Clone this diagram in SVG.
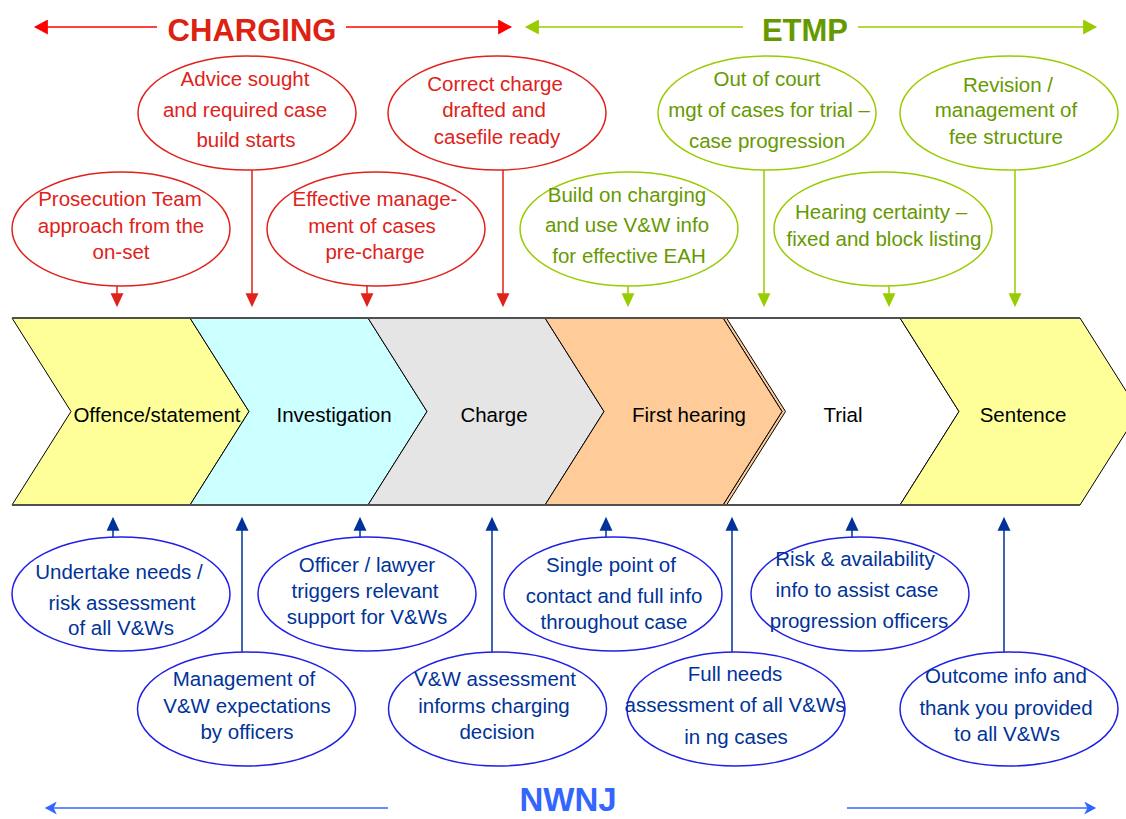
<svg xmlns="http://www.w3.org/2000/svg" width="1126" height="819" viewBox="0 0 1126 819">
<style>
text{font-family:"Liberation Sans",Arial,sans-serif;text-anchor:middle}
.hd{font-size:31px;font-weight:bold}
.lbl{font-size:20.5px;fill:#000}
.et{font-size:20.5px}
.r{fill:#E0221A}.g{fill:#669900}.b{fill:#003399}
.er{fill:#fff;stroke:#E0221A;stroke-width:1.5}
.eg{fill:#fff;stroke:#99CC00;stroke-width:1.5}
.eb{fill:#fff;stroke:#1F1FE6;stroke-width:1.5}
.chev{stroke:#000;stroke-width:1}
.cr{stroke:#E0221A;stroke-width:1.5;fill:none;marker-end:url(#mr)}
.cg{stroke:#99CC00;stroke-width:1.5;fill:none;marker-end:url(#mg)}
.cb{stroke:#003399;stroke-width:1.5;fill:none;marker-end:url(#mb)}
.hr{stroke:#FF0000;stroke-width:1.5;fill:none}
.hg{stroke:#99CC00;stroke-width:1.5;fill:none}
.hb{stroke:#3366FF;stroke-width:1.5;fill:none}
</style>
<defs>
<marker id="mr" markerUnits="userSpaceOnUse" markerWidth="14" markerHeight="14" viewBox="0 0 13 12" refX="11" refY="6" orient="auto"><path d="M0,0 L13,6 L0,12 z" fill="#E0221A"/></marker>
<marker id="mg" markerUnits="userSpaceOnUse" markerWidth="14" markerHeight="14" viewBox="0 0 13 12" refX="11" refY="6" orient="auto"><path d="M0,0 L13,6 L0,12 z" fill="#99CC00"/></marker>
<marker id="mb" markerUnits="userSpaceOnUse" markerWidth="14" markerHeight="14" viewBox="0 0 13 12" refX="11" refY="6" orient="auto"><path d="M0,0 L13,6 L0,12 z" fill="#003399"/></marker>
<marker id="mhr" markerUnits="userSpaceOnUse" markerWidth="15" markerHeight="15" viewBox="0 0 13 14" refX="12" refY="7" orient="auto"><path d="M0,0 L13,7 L0,14 z" fill="#FF0000"/></marker>
<marker id="mhg" markerUnits="userSpaceOnUse" markerWidth="15" markerHeight="15" viewBox="0 0 13 14" refX="12" refY="7" orient="auto"><path d="M0,0 L13,7 L0,14 z" fill="#99CC00"/></marker>
<marker id="mhb" markerUnits="userSpaceOnUse" markerWidth="13" markerHeight="13" viewBox="0 0 11 12" refX="10" refY="6" orient="auto"><path d="M0,0 L11,6 L0,12 L3,6 z" fill="#3366FF"/></marker>
</defs>
<rect width="1126" height="819" fill="#fff"/>

<g id="headers">
<line class="hr" x1="157" y1="27" x2="35" y2="27" marker-end="url(#mhr)"/>
<line class="hr" x1="346" y1="27" x2="511" y2="27" marker-end="url(#mhr)"/>
<text class="hd" x="252" y="41" fill="#DD2211">CHARGING</text>
<line class="hg" x1="743" y1="27" x2="526" y2="27" marker-end="url(#mhg)"/>
<line class="hg" x1="858" y1="27" x2="1096" y2="27" marker-end="url(#mhg)"/>
<text class="hd" x="805" y="41" fill="#669900">ETMP</text>
<line class="hb" x1="388" y1="808" x2="46" y2="808" marker-end="url(#mhb)"/>
<line class="hb" x1="847" y1="808" x2="1095" y2="808" marker-end="url(#mhb)"/>
<text class="hd" x="568" y="811" fill="#3366FF" style="font-size:33px">NWNJ</text>
</g>

<g id="process">
<g id="offence"><polygon class="chev" fill="#FFFF99" points="12,318 190,318 249,411.5 190,505 12,505 71,411.5"/><text class="lbl" x="157" y="422">Offence/statement</text></g>
<g id="investigation"><polygon class="chev" fill="#CCFFFF" points="190,318 368,318 427,411.5 368,505 190,505 249,411.5"/><text class="lbl" x="334" y="422">Investigation</text></g>
<g id="charge"><polygon class="chev" fill="#E5E5E5" points="368,318 545,318 604,411.5 545,505 368,505 427,411.5"/><text class="lbl" x="494" y="422">Charge</text></g>
<g id="trial"><polygon class="chev" fill="#FFFFFF" points="723,318 900,318 959,411.5 900,505 723,505 782,411.5"/><text class="lbl" x="843" y="422">Trial</text></g>
<g id="firsthearing"><polygon class="chev" fill="#FFCC99" points="723,318 726.5,318 785.5,411.5 726.5,505 723,505 782,411.5"/><polygon class="chev" fill="#FFCC99" points="545,318 723,318 782,411.5 723,505 545,505 604,411.5"/><text class="lbl" x="689" y="422">First hearing</text></g>
<g id="sentence"><polygon class="chev" fill="#FFFF99" points="900,318 1080,318 1139,411.5 1080,505 900,505 959,411.5"/><text class="lbl" x="1023" y="422">Sentence</text></g>
<line x1="12" y1="318" x2="1080" y2="318" stroke="#505050" stroke-width="2.2"/>
<line x1="12" y1="505" x2="1080" y2="505" stroke="#505050" stroke-width="2.2"/>
</g>

<g id="connectors">
<line class="cr" x1="117" y1="286" x2="117" y2="305"/>
<line class="cr" x1="252" y1="170" x2="252" y2="305"/>
<line class="cr" x1="367" y1="286" x2="367" y2="305"/>
<line class="cr" x1="503" y1="170" x2="503" y2="305"/>
<line class="cg" x1="628" y1="286" x2="628" y2="305"/>
<line class="cg" x1="764" y1="170" x2="764" y2="305"/>
<line class="cg" x1="889" y1="286" x2="889" y2="305"/>
<line class="cg" x1="1015" y1="170" x2="1015" y2="305"/>
<line class="cb" x1="113" y1="537" x2="113" y2="519"/>
<line class="cb" x1="242" y1="652" x2="242" y2="519"/>
<line class="cb" x1="360" y1="537" x2="360" y2="519"/>
<line class="cb" x1="492" y1="652" x2="492" y2="519"/>
<line class="cb" x1="606" y1="537" x2="606" y2="519"/>
<line class="cb" x1="732" y1="652" x2="732" y2="519"/>
<line class="cb" x1="852" y1="537" x2="852" y2="519"/>
<line class="cb" x1="1004" y1="652" x2="1004" y2="519"/>
</g>

<g id="n-prosecution"><ellipse class="er" cx="121" cy="229" rx="109" ry="57"/><text class="et r" x="120"><tspan x="120" y="206">Prosecution Team</tspan><tspan x="121" y="233">approach from the</tspan><tspan x="121" y="259">on-set</tspan></text></g>
<g id="n-advice"><ellipse class="er" cx="247" cy="113" rx="109" ry="57"/><text class="et r"><tspan x="245" y="86">Advice sought</tspan><tspan x="245" y="117">and required case</tspan><tspan x="246" y="147">build starts</tspan></text></g>
<g id="n-effective"><ellipse class="er" cx="376" cy="229" rx="109" ry="57"/><text class="et r"><tspan x="375" y="206">Effective manage-</tspan><tspan x="372" y="233">ment of cases</tspan><tspan x="375" y="259">pre-charge</tspan></text></g>
<g id="n-correct"><ellipse class="er" cx="497" cy="113" rx="109" ry="57"/><text class="et r"><tspan x="495" y="91">Correct charge</tspan><tspan x="494" y="117">drafted and</tspan><tspan x="497" y="144">casefile ready</tspan></text></g>
<g id="n-outofcourt"><ellipse class="eg" cx="767" cy="113" rx="109" ry="57"/><text class="et g"><tspan x="767" y="86">Out of court</tspan><tspan x="769" y="117">mgt of cases for trial –</tspan><tspan x="767" y="148">case progression</tspan></text></g>
<g id="n-revision"><ellipse class="eg" cx="1009" cy="113" rx="109" ry="57"/><text class="et g"><tspan x="1008" y="92">Revision /</tspan><tspan x="1006" y="117">management of</tspan><tspan x="1006" y="144">fee structure</tspan></text></g>
<g id="n-build"><ellipse class="eg" cx="629" cy="229" rx="109" ry="57"/><text class="et g"><tspan x="627" y="202">Build on charging</tspan><tspan x="627" y="232">and use V&amp;W info</tspan><tspan x="629" y="263">for effective EAH</tspan></text></g>
<g id="n-hearing"><ellipse class="eg" cx="883" cy="229" rx="109" ry="57"/><text class="et g"><tspan x="881" y="219">Hearing certainty –</tspan><tspan x="884" y="246">fixed and block listing</tspan></text></g>

<g id="n-undertake"><ellipse class="eb" cx="121" cy="594" rx="109" ry="57"/><text class="et b"><tspan x="119" y="579">Undertake needs /</tspan><tspan x="122" y="610">risk assessment</tspan><tspan x="121" y="635">of all V&amp;Ws</tspan></text></g>
<g id="n-officer"><ellipse class="eb" cx="367" cy="594" rx="109" ry="57"/><text class="et b"><tspan x="367" y="572">Officer / lawyer</tspan><tspan x="365" y="598">triggers relevant</tspan><tspan x="367" y="624">support for V&amp;Ws</tspan></text></g>
<g id="n-single"><ellipse class="eb" cx="613" cy="594" rx="109" ry="57"/><text class="et b"><tspan x="611" y="572">Single point of</tspan><tspan x="614" y="603">contact and full info</tspan><tspan x="614" y="629">throughout case</tspan></text></g>
<g id="n-risk"><ellipse class="eb" cx="860" cy="594" rx="109" ry="57"/><text class="et b"><tspan x="855" y="566">Risk &amp; availability</tspan><tspan x="857" y="597">info to assist case</tspan><tspan x="859" y="628">progression officers</tspan></text></g>
<g id="n-management"><ellipse class="eb" cx="246.5" cy="709" rx="109" ry="57"/><text class="et b"><tspan x="244" y="686">Management of</tspan><tspan x="247" y="713">V&amp;W expectations</tspan><tspan x="247" y="739">by officers</tspan></text></g>
<g id="n-vwassess"><ellipse class="eb" cx="497.5" cy="709" rx="109" ry="57"/><text class="et b"><tspan x="495" y="686">V&amp;W assessment</tspan><tspan x="494" y="713">informs charging</tspan><tspan x="497" y="739">decision</tspan></text></g>
<g id="n-fullneeds"><ellipse class="eb" cx="736" cy="709" rx="109" ry="57"/><text class="et b"><tspan x="735" y="681">Full needs</tspan><tspan x="735" y="712">assessment of all V&amp;Ws</tspan><tspan x="736" y="744">in ng cases</tspan></text></g>
<g id="n-outcome"><ellipse class="eb" cx="1009" cy="709" rx="109" ry="57"/><text class="et b"><tspan x="1006" y="683">Outcome info and</tspan><tspan x="1006" y="715">thank you provided</tspan><tspan x="1007" y="741">to all V&amp;Ws</tspan></text></g>
</svg>
